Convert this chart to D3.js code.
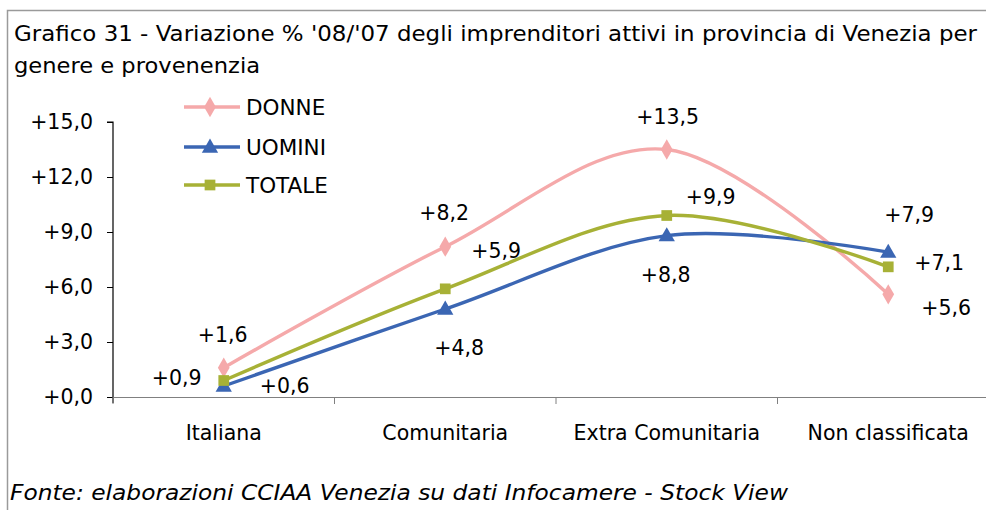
<!DOCTYPE html>
<html><head><meta charset="utf-8">
<script src="https://cdn.jsdelivr.net/npm/d3@7"></script>
<style>body{margin:0;background:#fff}svg{display:block}text{font-family:"DejaVu Sans",Verdana,sans-serif;fill:#000}</style>
</head><body>
<script>
const categories = ["Italiana","Comunitaria","Extra Comunitaria","Non classificata"];
const seriesNames = ["DONNE","UOMINI","TOTALE"];
const donne = [1.6, 8.2, 13.5, 5.6];
const uomini = [0.6, 4.8, 8.8, 7.9];
const totale = [0.9, 5.9, 9.9, 7.1];
const yTicks = [0, 3, 6, 9, 12, 15];
const titleLines = ["Grafico 31 - Variazione % '08/'07 degli imprenditori attivi in provincia di Venezia per","genere e provenenzia"];
const sourceText = "Fonte: elaborazioni CCIAA Venezia su dati Infocamere - Stock View";

// layout-only: label offsets per series/point
const labelOffsets = [
  [[-1,-33],[-1,-34],[1,-33],[58,14]],
  [[61,0],[14,39],[-1,39],[21,-37]],
  [[-47,-3],[51,-38],[44,-19],[51,-4]]
];
const colors = ["#F5A9AA","#3B66B3","#A7B136"];
const markers = [d3.symbolDiamond, d3.symbolTriangle, d3.symbolSquare];
const markerSizes = [120, 115, 115];

const W = 986, H = 510;
const svg = d3.select("body").append("svg").attr("width", W).attr("height", H);

// frame
svg.append("path").attr("d","M7.5,510 V10.5 H986").attr("fill","none").attr("stroke","#9a9a9a").attr("stroke-width",1.5);

// title
svg.append("text").attr("x",14).attr("y",41).attr("font-size",22)
  .attr("textLength",963).attr("lengthAdjust","spacingAndGlyphs").text(titleLines[0]);
svg.append("text").attr("x",14).attr("y",73).attr("font-size",22)
  .attr("textLength",246).attr("lengthAdjust","spacingAndGlyphs").text(titleLines[1]);

const x0 = 113, bandW = 221.5;
const x = d3.scaleBand().domain(categories).range([x0, x0 + 4*bandW]).padding(0);
const y = d3.scaleLinear().domain([0,15]).range([397,122]);
const fmt = v => "+" + d3.format(".1f")(v).replace(".", ",");

// y axis
const ya = svg.append("g").attr("transform",`translate(${x0},0)`)
  .call(d3.axisLeft(y).tickValues(yTicks).tickSize(6).tickFormat(fmt));
ya.select(".domain").attr("stroke","#000").attr("stroke-width",1.2).attr("d",`M-6,${y(15)}H0V${y(0)+6}`);
ya.selectAll(".tick line").attr("stroke","#000");
ya.selectAll(".tick text").attr("font-size",20.5).attr("x",-20).attr("fill","#000")
  .attr("font-family","DejaVu Sans");

// x axis
const xa = svg.append("g").attr("transform",`translate(0,${y(0)})`)
  .call(d3.axisBottom(x).tickSize(0).tickPadding(28));
xa.select(".domain").attr("stroke","#808080").attr("stroke-width",1.2);
xa.selectAll(".tick text").attr("font-size",20.5).attr("fill","#000").attr("font-family","DejaVu Sans");
const bounds = categories.map((c,i)=>x(c)).concat([x0+4*bandW]);
xa.selectAll("line.bnd").data(bounds).enter().append("line").attr("class","bnd")
  .attr("x1",d=>d).attr("x2",d=>d).attr("y1",0).attr("y2",7).attr("stroke","#808080");

const data = [donne, uomini, totale];
const cx = c => x(c) + x.bandwidth()/2;
const line = d3.line().x((d,i)=>cx(categories[i])).y(d=>y(d)).curve(d3.curveCardinal.tension(0));

data.forEach((vals, s) => {
  svg.append("path").datum(vals).attr("d", line).attr("fill","none")
    .attr("stroke", colors[s]).attr("stroke-width",3.4);
});
data.forEach((vals, s) => {
  svg.selectAll(null).data(vals).enter().append("path")
    .attr("d", d3.symbol().type(markers[s]).size(markerSizes[s]))
    .attr("transform",(d,i)=>`translate(${cx(categories[i])},${y(d) + (s===1?1:0)})`)
    .attr("fill", colors[s]);
  svg.selectAll(null).data(vals).enter().append("text")
    .attr("x",(d,i)=>cx(categories[i]) + labelOffsets[s][i][0])
    .attr("y",(d,i)=>y(d) + labelOffsets[s][i][1])
    .attr("text-anchor","middle").attr("dominant-baseline","central")
    .attr("font-size",20.5).text(d=>fmt(d));
});

// legend
const legY = [107,147,185];
seriesNames.forEach((n,s)=>{
  const g = svg.append("g").attr("transform",`translate(0,${legY[s]})`);
  g.append("line").attr("x1",184).attr("x2",240).attr("y1",0).attr("y2",0)
    .attr("stroke",colors[s]).attr("stroke-width",3.4);
  g.append("path").attr("d", d3.symbol().type(markers[s]).size(markerSizes[s]))
    .attr("transform",`translate(210,${s===1?1:0})`).attr("fill",colors[s]);
  g.append("text").attr("x",246).attr("y",0).attr("dominant-baseline","central")
    .attr("font-size",21.5).text(n);
});

// source
svg.append("text").attr("x",10).attr("y",500).attr("font-size",22).attr("font-style","italic")
  .attr("textLength",778).attr("lengthAdjust","spacingAndGlyphs").text(sourceText);
</script>
</body></html>
